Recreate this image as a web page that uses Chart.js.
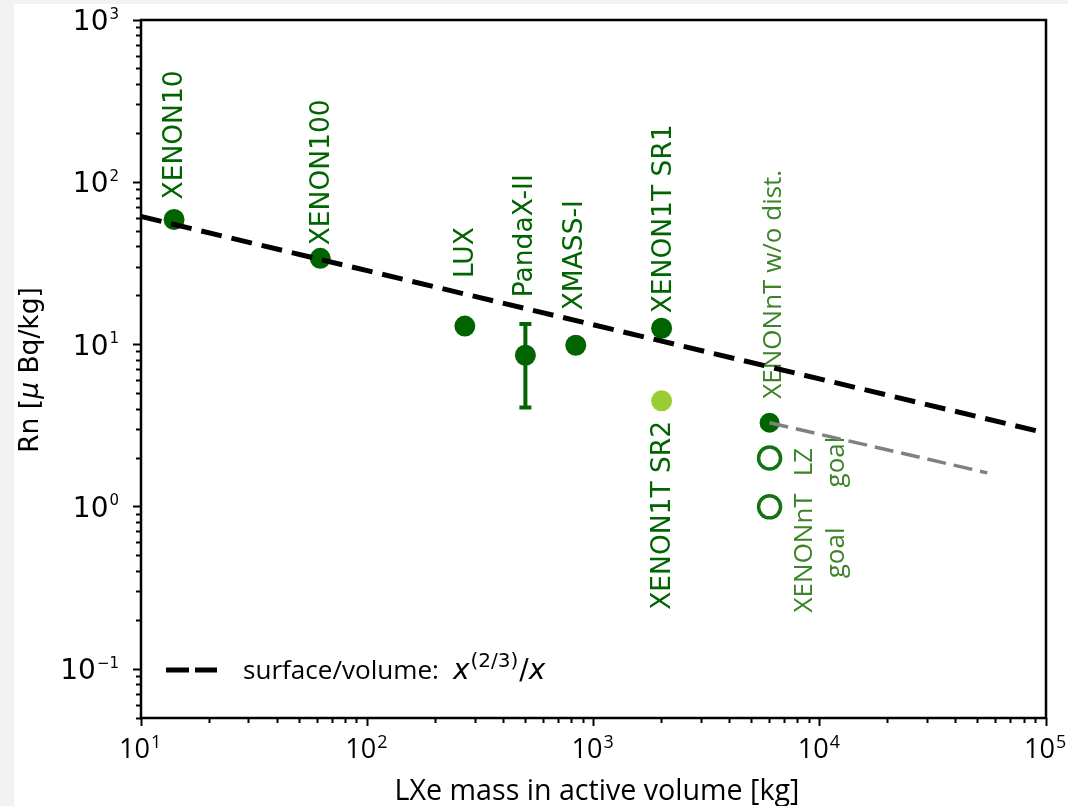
<!DOCTYPE html>
<html>
<head>
<meta charset="utf-8">
<script src="https://cdn.jsdelivr.net/npm/chart.js@4.4.1/dist/chart.umd.min.js"></script>
<style>
  html, body { margin: 0; padding: 0; background: #f2f2f2; }
  canvas { display: block; }
</style>
</head>
<body>
<canvas id="c" width="1068" height="806"></canvas>
<script>
// Radon activity concentration in liquid-xenon detectors vs. active mass

// Measured detectors
const experiments = ['XENON10', 'XENON100', 'LUX', 'PandaX-II', 'XMASS-I', 'XENON1T SR1'];
const massKg     = [14, 62, 270, 500, 835, 2000];
const rnMuBqKg   = [59, 34, 13.0, 8.6, 9.9, 12.6];
const rnErrLow   = [null, null, null, 4.1, null, null];
const rnErrHigh  = [null, null, null, 13.4, null, null];

// XENON1T science run 2
const sr2Names = ['XENON1T SR2'];
const sr2Mass  = [2000];
const sr2Rn    = [4.5];

// XENONnT without distillation
const ntNames = ['XENONnT w/o dist.'];
const ntMass  = [6000];
const ntRn    = [3.3];

// Design goals (open markers)
const goalNames = [['LZ', 'goal'], ['XENONnT', 'goal']];
const goalMass  = [6000, 6000];
const goalRn    = [2.0, 1.0];

// surface/volume scaling x^(2/3)/x, end points over the axis range
const scalingMass = [10, 100000];
const scalingRn   = [61.5, 2.85];

// projected trend from the XENONnT point
const projMass = [6000, 55000];
const projRn   = [3.3, 1.62];

// axis decades
const xTickExps = [1, 2, 3, 4, 5];
const yTickExps = [-1, 0, 1, 2, 3];

// ---------- styling / placement ----------
const DARK = '#006400';
const LIGHT = '#9acd32';
const NT_TEXT = '#3c8229';
const GOAL_RING = '#137313';

// [dx, dy] from marker centre to the label's start (bottom), px
const labelOffsets = {
  'XENON10': [-1.5, -20],
  'XENON100': [-1, -13],
  'LUX': [-2, -48],
  'PandaX-II': [-3, -58],
  'XMASS-I': [-3, -35],
  'XENON1T SR1': [0, -15]
};
const sr2Offset = [-1, 20];     // label end sits below the marker
const ntOffset = [2, -24];
const goalOffsets = [[42, 4], [42, 46]];  // first baseline dx, block centre dy

const pts = (xs, ys) => xs.map((x, i) => ({ x, y: ys[i] }));

function pow10List(exps) { return exps.map(e => Math.pow(10, e)); }
function minorList(lo, hi) {
  const out = [];
  for (let e = Math.floor(Math.log10(lo)) - 1; e <= Math.ceil(Math.log10(hi)); e++) {
    for (let m = 2; m <= 9; m++) {
      const v = m * Math.pow(10, e);
      if (v >= lo * 0.999 && v <= hi * 1.001) out.push(v);
    }
  }
  return out;
}

const X_MIN = 10, X_MAX = 1e5, Y_MIN = 0.05, Y_MAX = 1000;

// font size that makes `text` span `width` px
function fitSize(ctx, text, family, width, style) {
  ctx.save();
  ctx.font = (style || 'normal') + ' 100px ' + family;
  const w = ctx.measureText(text).width;
  ctx.restore();
  return 100 * width / w;
}

function vText(ctx, text, x, y, align, font, color, capShift) {
  ctx.save();
  ctx.translate(x, y);
  ctx.rotate(-Math.PI / 2);
  ctx.font = font;
  ctx.fillStyle = color;
  ctx.textAlign = align;
  ctx.textBaseline = 'alphabetic';
  ctx.fillText(text, 0, capShift);
  ctx.restore();
}

const decorations = {
  id: 'decorations',
  beforeDraw(chart) {
    const { ctx, width, height } = chart;
    ctx.save();
    ctx.fillStyle = '#f2f2f2';
    ctx.fillRect(0, 0, width, height);
    ctx.fillStyle = '#ffffff';
    ctx.fillRect(14, 4, width - 14, height - 4);
    ctx.restore();
  },
  beforeDatasetsDraw(chart) {
    const { ctx } = chart;
    const xs = chart.scales.x, ys = chart.scales.y;
    const labelFont = '26.5px "DejaVu Sans"';
    const ntFont = '26px "Open Sans"';

    // error bars
    ctx.save();
    ctx.strokeStyle = DARK;
    ctx.lineWidth = 4;
    massKg.forEach((m, i) => {
      if (rnErrLow[i] == null) return;
      const px = xs.getPixelForValue(m);
      const y1 = ys.getPixelForValue(rnErrHigh[i]);
      const y2 = ys.getPixelForValue(rnErrLow[i]);
      ctx.beginPath();
      ctx.moveTo(px, y1); ctx.lineTo(px, y2);
      ctx.moveTo(px - 6, y1); ctx.lineTo(px + 6, y1);
      ctx.moveTo(px - 6, y2); ctx.lineTo(px + 6, y2);
      ctx.stroke();
    });
    ctx.restore();

    // detector labels
    massKg.forEach((m, i) => {
      const [dx, dy] = labelOffsets[experiments[i]];
      const px = xs.getPixelForValue(m) + dx;
      const py = ys.getPixelForValue(rnMuBqKg[i]) + dy;
      vText(ctx, experiments[i], px, py, 'left', labelFont, DARK, 9.7);
    });
    sr2Mass.forEach((m, i) => {
      const px = xs.getPixelForValue(m) + sr2Offset[0];
      const py = ys.getPixelForValue(sr2Rn[i]) + sr2Offset[1];
      vText(ctx, sr2Names[i], px, py, 'right', labelFont, DARK, 9.7);
    });
    ntMass.forEach((m, i) => {
      const px = xs.getPixelForValue(m) + ntOffset[0];
      const py = ys.getPixelForValue(ntRn[i]) + ntOffset[1];
      vText(ctx, ntNames[i], px, py, 'left', ntFont, NT_TEXT, 9.3);
    });
    goalMass.forEach((m, i) => {
      const [dx, dy] = goalOffsets[i];
      const px = xs.getPixelForValue(m) + dx;
      const py = ys.getPixelForValue(goalRn[i]) + dy;
      goalNames[i].forEach((line, k) => {
        vText(ctx, line, px, py, 'center', ntFont, NT_TEXT, k * 32);
      });
    });
  },
  afterDraw(chart) {
    const { ctx, chartArea: a } = chart;
    const xs = chart.scales.x, ys = chart.scales.y;
    const OS = '"Open Sans"';

    // frame
    ctx.save();
    ctx.strokeStyle = '#000';
    ctx.lineWidth = 2.5;
    ctx.strokeRect(a.left, a.top, a.right - a.left, a.bottom - a.top);
    ctx.restore();

    // y tick labels 10^n
    ctx.save();
    ctx.fillStyle = '#000';
    ctx.textBaseline = 'alphabetic';
    ctx.textAlign = 'left';
    yTickExps.forEach(e => {
      const py = ys.getPixelForValue(Math.pow(10, e));
      const expStr = e < 0 ? '\u2212' + Math.abs(e) : String(e);
      ctx.font = '15px "DejaVu Sans"';
      const we = ctx.measureText(expStr).width;
      ctx.font = '28px "DejaVu Sans"';
      const wb = ctx.measureText('10').width;
      const right = 119;
      ctx.fillText('10', right - we - wb - 1, py + 10.2);
      ctx.font = '15px "DejaVu Sans"';
      ctx.fillText(expStr, right - we, py - 1.5);
    });
    ctx.restore();

    // x tick labels 10^n
    ctx.save();
    ctx.fillStyle = '#000';
    ctx.textBaseline = 'alphabetic';
    ctx.textAlign = 'left';
    const tickSize = fitSize(ctx, '10', OS, 31);
    const expSize = tickSize * 0.66;
    xTickExps.forEach(e => {
      const px = xs.getPixelForValue(Math.pow(10, e));
      const expStr = String(e);
      ctx.font = tickSize + 'px ' + OS;
      const wb = ctx.measureText('10').width;
      ctx.font = expSize + 'px ' + OS;
      const we = ctx.measureText(expStr).width;
      const x0 = px - (wb + we + 1) / 2 - 1;
      ctx.font = tickSize + 'px ' + OS;
      ctx.fillText('10', x0, 758);
      ctx.font = expSize + 'px ' + OS;
      ctx.fillText(expStr, x0 + wb + 1, 748);
    });
    ctx.restore();

    // x axis title
    ctx.save();
    ctx.fillStyle = '#000';
    const xTitle = 'LXe mass in active volume [kg]';
    ctx.font = fitSize(ctx, xTitle, OS, 405) + 'px ' + OS;
    ctx.textAlign = 'center';
    ctx.textBaseline = 'alphabetic';
    ctx.fillText(xTitle, 597, 800);
    ctx.restore();

    // y axis title, rotated, with an italic mu
    ctx.save();
    ctx.translate(38, 370);
    ctx.rotate(-Math.PI / 2);
    ctx.fillStyle = '#000';
    ctx.textBaseline = 'alphabetic';
    ctx.textAlign = 'left';
    const parts = [['Rn [', 'normal'], ['\u03bc', 'italic'], [' Bq/kg]', 'normal']];
    let total = 0;
    parts.forEach(([t, st]) => { ctx.font = st + ' 26.5px "DejaVu Sans"'; total += ctx.measureText(t).width; });
    let cx = -total / 2;
    parts.forEach(([t, st]) => {
      ctx.font = st + ' 26.5px "DejaVu Sans"';
      ctx.fillText(t, cx, 0);
      cx += ctx.measureText(t).width;
    });
    ctx.restore();

    // legend: dashed sample + label with superscript
    ctx.save();
    ctx.strokeStyle = '#000';
    ctx.lineWidth = 5;
    ctx.setLineDash([23, 6]);
    ctx.beginPath();
    ctx.moveTo(166, 670);
    ctx.lineTo(217, 670);
    ctx.stroke();
    ctx.setLineDash([]);
    ctx.fillStyle = '#000';
    ctx.textBaseline = 'alphabetic';
    ctx.textAlign = 'left';
    const base = 679;
    const legSize = fitSize(ctx, 'surface/volume:', OS, 196);
    ctx.font = legSize + 'px ' + OS;
    ctx.fillText('surface/volume:', 243, base);
    let lx = 453;
    const seg = (t, font, dy) => { ctx.font = font; ctx.fillText(t, lx, base + dy); lx += ctx.measureText(t).width; };
    seg('x', 'italic 28px "DejaVu Sans"', 0);
    lx += 1;
    seg('(2/3)', '20px "DejaVu Sans"', -12);
    lx += 1;
    seg('/', '28px "DejaVu Sans"', 0);
    seg('x', 'italic 28px "DejaVu Sans"', 0);
    ctx.restore();
  }
};

function logAxis(axis, position, min, max, values, len) {
  return {
    type: 'logarithmic',
    axis,
    position,
    min, max,
    afterFit(s) { if (axis === 'x') s.height = 0; else s.width = 0; },
    afterBuildTicks(s) { s.ticks = values.map(v => ({ value: v })); },
    ticks: { display: false },
    grid: { drawOnChartArea: false, drawTicks: true, tickLength: len, tickWidth: 2, tickColor: '#000' },
    border: { display: false },
    title: { display: false }
  };
}

new Chart(document.getElementById('c'), {
  type: 'scatter',
  data: {
    datasets: [
      {
        label: 'projection',
        data: pts(projMass, projRn),
        showLine: true, pointRadius: 0,
        borderColor: '#808080', borderWidth: 3.5, borderDash: [19, 8]
      },
      {
        label: 'surface/volume: x^(2/3)/x',
        data: pts(scalingMass, scalingRn),
        showLine: true, pointRadius: 0,
        borderColor: '#000000', borderWidth: 5, borderDash: [21, 10]
      },
      {
        label: 'goals',
        data: pts(goalMass, goalRn),
        pointRadius: 11, pointBackgroundColor: 'rgba(0,0,0,0)',
        pointBorderColor: GOAL_RING, pointBorderWidth: 3.5
      },
      {
        label: 'XENONnT',
        data: pts(ntMass, ntRn),
        pointRadius: 10, pointBackgroundColor: DARK, pointBorderWidth: 0
      },
      {
        label: 'XENON1T SR2',
        data: pts(sr2Mass, sr2Rn),
        pointRadius: 10.5, pointBackgroundColor: LIGHT, pointBorderWidth: 0
      },
      {
        label: 'measured',
        data: pts(massKg, rnMuBqKg),
        pointRadius: 10.5, pointBackgroundColor: DARK, pointBorderWidth: 0
      }
    ]
  },
  options: {
    responsive: false,
    animation: false,
    layout: { padding: { left: 141, top: 20, right: 22, bottom: 88 } },
    plugins: { legend: { display: false }, tooltip: { enabled: false } },
    scales: {
      x: logAxis('x', 'bottom', X_MIN, X_MAX, pow10List(xTickExps), 8),
      xMinor: logAxis('x', 'bottom', X_MIN, X_MAX, minorList(X_MIN, X_MAX), 5),
      y: logAxis('y', 'left', Y_MIN, Y_MAX, pow10List(yTickExps), 8),
      yMinor: logAxis('y', 'left', Y_MIN, Y_MAX, minorList(Y_MIN, Y_MAX), 5)
    }
  },
  plugins: [decorations]
});
</script>
</body>
</html>
